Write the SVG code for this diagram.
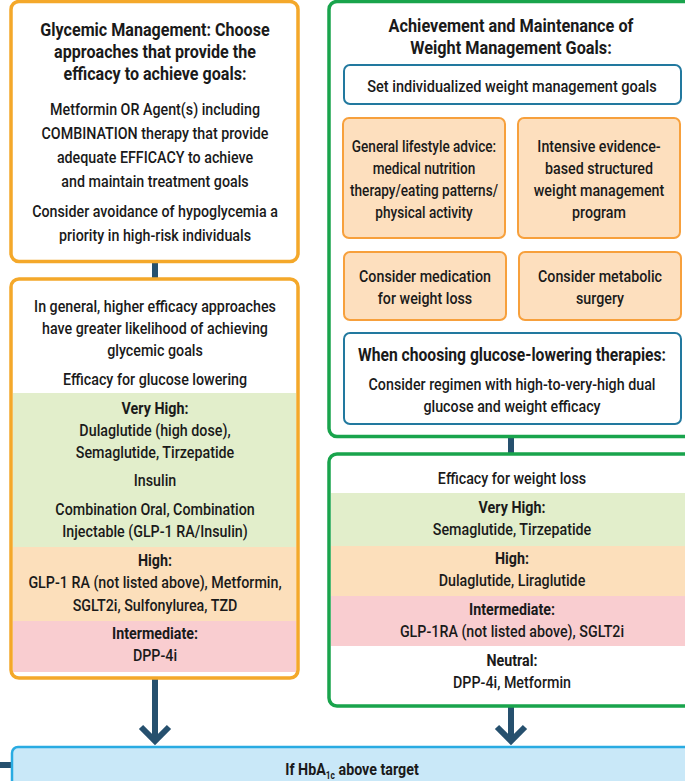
<svg xmlns="http://www.w3.org/2000/svg" width="685" height="781" viewBox="0 0 685 781">
<style>
text{font-family:Roboto,"Liberation Sans",sans-serif;fill:#1a1a1a;text-anchor:middle;font-size:17px;font-weight:500}
.b{font-weight:bold}
.h{font-weight:bold;font-size:18.5px}
.ob{fill:#fff;stroke:#F4A82A;stroke-width:3.5}
.gb{fill:#fff;stroke:#19A44C;stroke-width:3.5}
.bl{fill:#fff;stroke:#22799F;stroke-width:2}
.or{fill:#FDDFBE;stroke:#F7A03C;stroke-width:2}
.vh{fill:#E2EECB}
.hi{fill:#FCDFBB}
.im{fill:#F9CDD0}
.ln{stroke:#26506E;stroke-width:6;fill:none}
</style>
<g id="connectors">
<line class="ln" x1="155" y1="262" x2="155" y2="279"/>
<line class="ln" x1="511" y1="437" x2="511" y2="454"/>
<line class="ln" x1="155" y1="678" x2="155" y2="739"/>
<polyline class="ln" points="141,727 155,741 169,727"/>
<line class="ln" x1="511" y1="706" x2="511" y2="739"/>
<polyline class="ln" points="497,727 511,741 525,727"/>
<line class="ln" x1="0" y1="765" x2="12" y2="765"/>
</g>
<g id="glycemic">
<rect class="ob" x="11" y="1.5" width="287" height="260" rx="8"/>
<g transform="translate(155 0) scale(0.87 1)">
<text class="h" x="0" y="36">Glycemic Management: Choose</text>
<text class="h" x="0" y="58">approaches that provide the</text>
<text class="h" x="0" y="80">efficacy to achieve goals:</text>
</g>
<g transform="translate(155 0) scale(0.84 1)">
<text x="0" y="115">Metformin OR Agent(s) including</text>
<text x="0" y="139">COMBINATION therapy that provide</text>
<text x="0" y="163">adequate EFFICACY to achieve</text>
<text x="0" y="187">and maintain treatment goals</text>
<text x="0" y="217">Consider avoidance of hypoglycemia a</text>
<text x="0" y="241">priority in high-risk individuals</text>
</g>
</g>
<g id="glucose-efficacy">
<rect class="ob" x="11" y="279" width="287" height="399" rx="8"/>
<rect class="vh" x="13" y="393" width="283" height="154"/>
<rect class="hi" x="13" y="547" width="283" height="74"/>
<rect class="im" x="13" y="621" width="283" height="51"/>
<g transform="translate(155 0) scale(0.84 1)">
<text x="0" y="312">In general, higher efficacy approaches</text>
<text x="0" y="334">have greater likelihood of achieving</text>
<text x="0" y="356">glycemic goals</text>
<text x="0" y="385">Efficacy for glucose lowering</text>
<text class="b" x="0" y="414">Very High:</text>
<text x="0" y="436">Dulaglutide (high dose),</text>
<text x="0" y="458">Semaglutide, Tirzepatide</text>
<text x="0" y="486">Insulin</text>
<text x="0" y="515">Combination Oral, Combination</text>
<text x="0" y="537">Injectable (GLP-1 RA/Insulin)</text>
<text class="b" x="0" y="566">High:</text>
<text x="0" y="588">GLP-1 RA (not listed above), Metformin,</text>
<text x="0" y="611">SGLT2i, Sulfonylurea, TZD</text>
<text class="b" x="0" y="639">Intermediate:</text>
<text x="0" y="661">DPP-4i</text>
</g>
</g>
<g id="weight-goals">
<rect class="gb" x="329" y="1.5" width="380" height="435" rx="8"/>
<g transform="translate(511 0) scale(0.88 1)">
<text class="h" x="0" y="32">Achievement and Maintenance of</text>
<text class="h" x="0" y="54">Weight Management Goals:</text>
</g>
</g>
<g id="set-goals">
<rect class="bl" x="344" y="65" width="337" height="39" rx="6"/>
<g transform="translate(512 0) scale(0.855 1)">
<text x="0" y="92">Set individualized weight management goals</text>
</g>
</g>
<g id="lifestyle">
<rect class="or" x="343" y="118" width="162" height="120" rx="6"/>
<g transform="translate(424 0) scale(0.8 1)">
<text x="0" y="152">General lifestyle advice:</text>
<text x="0" y="174">medical nutrition</text>
<text x="0" y="196">therapy/eating patterns/</text>
<text x="0" y="218">physical activity</text>
</g>
</g>
<g id="intensive">
<rect class="or" x="518" y="118" width="162" height="120" rx="6"/>
<g transform="translate(599 0) scale(0.84 1)">
<text x="0" y="152">Intensive evidence-</text>
<text x="0" y="174">based structured</text>
<text x="0" y="196">weight management</text>
<text x="0" y="218">program</text>
</g>
</g>
<g id="medication">
<rect class="or" x="344" y="252" width="162" height="68" rx="6"/>
<g transform="translate(425 0) scale(0.84 1)">
<text x="0" y="282">Consider medication</text>
<text x="0" y="304">for weight loss</text>
</g>
</g>
<g id="surgery">
<rect class="or" x="519" y="252" width="162" height="68" rx="6"/>
<g transform="translate(600 0) scale(0.84 1)">
<text x="0" y="282">Consider metabolic</text>
<text x="0" y="304">surgery</text>
</g>
</g>
<g id="choosing">
<rect class="bl" x="344" y="333" width="337" height="91" rx="6"/>
<g transform="translate(512 0) scale(0.87 1)">
<text class="b" x="0" y="361" style="font-size:18px">When choosing glucose-lowering therapies:</text>
</g>
<g transform="translate(512 0) scale(0.84 1)">
<text x="0" y="390">Consider regimen with high-to-very-high dual</text>
<text x="0" y="412">glucose and weight efficacy</text>
</g>
</g>
<g id="weight-efficacy">
<rect class="gb" x="329" y="454" width="380" height="252" rx="8"/>
<rect class="vh" x="331" y="493" width="360" height="53"/>
<rect class="hi" x="331" y="546" width="360" height="50"/>
<rect class="im" x="331" y="596" width="360" height="50"/>
<g transform="translate(512 0) scale(0.84 1)">
<text x="0" y="484">Efficacy for weight loss</text>
<text class="b" x="0" y="513">Very High:</text>
<text x="0" y="535">Semaglutide, Tirzepatide</text>
<text class="b" x="0" y="564">High:</text>
<text x="0" y="586">Dulaglutide, Liraglutide</text>
<text class="b" x="0" y="615">Intermediate:</text>
<text x="0" y="637">GLP-1RA (not listed above), SGLT2i</text>
<text class="b" x="0" y="666">Neutral:</text>
<text x="0" y="688">DPP-4i, Metformin</text>
</g>
</g>
<g id="hba1c">
<rect x="12" y="747" width="700" height="60" rx="6" fill="#C9E8F8" stroke="#29ABE2" stroke-width="2.5"/>
<g transform="translate(352 0) scale(0.84 1)">
<text class="b" x="0" y="775" style="font-size:17px">If HbA<tspan dy="4" style="font-size:10px">1c</tspan><tspan dy="-4"> above target</tspan></text>
</g>
</g>
</svg>
